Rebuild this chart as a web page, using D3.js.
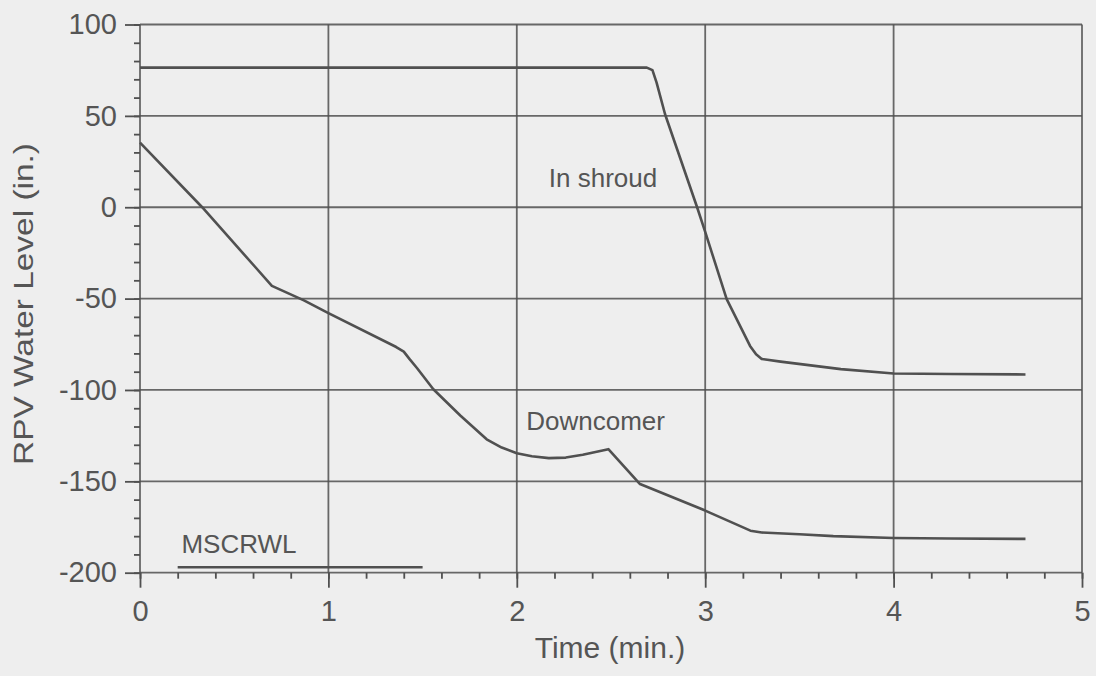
<!DOCTYPE html>
<html>
<head>
<meta charset="utf-8">
<script src="https://cdn.jsdelivr.net/npm/d3@7"></script>
<style>
  html, body { margin: 0; padding: 0; background: #eeeeee; }
  svg { display: block; }
  text { font-family: "Liberation Sans", Arial, Helvetica, sans-serif; fill: #555; }
</style>
</head>
<body>
<svg id="chart" width="1096" height="676"></svg>
<script>
// ---- data ----
const xTicks = [0, 1, 2, 3, 4, 5];
const yTicks = [100, 50, 0, -50, -100, -150, -200];

const downcomerTime  = [0, 0.33, 0.70, 0.87, 1.0, 1.36, 1.40, 1.43, 1.47, 1.557, 1.70, 1.84, 1.92, 2.0, 2.08, 2.17, 2.26, 2.35, 2.486, 2.654, 3.0, 3.24, 3.30, 3.50, 3.68, 4.0, 4.3, 4.70];
const downcomerLevel = [35.4, 0, -43, -51, -58, -76.5, -79, -83, -88, -99.6, -114, -127, -131.5, -134.6, -136.3, -137.3, -137, -135.5, -132.4, -151.5, -166, -177, -178, -179, -180, -181, -181.3, -181.5];

const shroudTime  = [0, 2.69, 2.72, 2.742, 2.787, 2.957, 3.0, 3.114, 3.238, 3.27, 3.30, 3.40, 3.72, 4.0, 4.3, 4.70];
const shroudLevel = [76.4, 76.4, 75, 68.2, 50.9, 0, -13.5, -50.3, -75.9, -80.5, -83, -84.5, -88.6, -91, -91.3, -91.5];

const msTime  = [0.2, 1.5];
const msLevel = [-197, -197];

const labels = [
  { text: "In shroud", t: 2.17, v: 11 },
  { text: "Downcomer", t: 2.05, v: -122 },
  { text: "MSCRWL", t: 0.22, v: -189 }
];

// ---- drawing ----
const svg = d3.select("#chart");
const ink = "#505050";
const x = d3.scaleLinear().domain([0, 5]).range([140, 1082]);
const y = d3.scaleLinear().domain([-200, 100]).range([572.7, 24.5]);
const fmt = d => String(d).replace("\u2212", "-");

// gridlines
svg.append("g").selectAll("line").data(yTicks).join("line")
  .attr("x1", x(0)).attr("x2", x(5))
  .attr("y1", d => y(d)).attr("y2", d => y(d))
  .attr("stroke", ink).attr("stroke-width", 1.8).attr("opacity", 0.85);
svg.append("g").selectAll("line").data(xTicks).join("line")
  .attr("x1", d => x(d)).attr("x2", d => x(d))
  .attr("y1", y(100)).attr("y2", y(-200))
  .attr("stroke", ink).attr("stroke-width", 1.8).attr("opacity", 0.85);

// axes with minor ticks
const xMinor = d3.range(0, 5.0001, 0.2);
const yMinor = d3.range(-200, 100.001, 10);
const gx = svg.append("g").attr("transform", `translate(0,${y(-200)})`);
gx.call(d3.axisBottom(x).tickValues(xMinor).tickSize(6).tickFormat(""));
gx.call(g => g.select(".domain").remove());
const gx2 = svg.append("g").attr("transform", `translate(0,${y(-200)})`);
gx2.call(d3.axisBottom(x).tickValues(xTicks).tickSize(15).tickPadding(12).tickFormat(fmt));
gx2.call(g => g.select(".domain").remove());

const gy = svg.append("g").attr("transform", `translate(${x(0)},0)`);
gy.call(d3.axisLeft(y).tickValues(yMinor).tickSize(6).tickFormat(""));
gy.call(g => g.select(".domain").remove());
const gy2 = svg.append("g").attr("transform", `translate(${x(0)},0)`);
gy2.call(d3.axisLeft(y).tickValues(yTicks).tickSize(15).tickPadding(8).tickFormat(fmt));
gy2.call(g => g.select(".domain").remove());

svg.selectAll(".tick line").attr("stroke", ink).attr("stroke-width", 1.8);
gx2.selectAll(".tick text").attr("font-size", 29).attr("fill", "#5a5a5a").attr("font-family", "Liberation Sans, Arial, sans-serif").attr("dy", "0.75em");
gy2.selectAll(".tick text").attr("font-size", 29).attr("fill", "#5a5a5a").attr("font-family", "Liberation Sans, Arial, sans-serif");

// curves
const line = d3.line().x(d => x(d[0])).y(d => y(d[1])).curve(d3.curveLinear);
const series = [
  d3.zip(downcomerTime, downcomerLevel),
  d3.zip(shroudTime, shroudLevel),
  d3.zip(msTime, msLevel)
];
svg.append("g").selectAll("path").data(series).join("path")
  .attr("d", line)
  .attr("fill", "none")
  .attr("stroke", ink)
  .attr("stroke-width", 2.6)
  .attr("stroke-linejoin", "round");

// annotations
svg.append("g").selectAll("text").data(labels).join("text")
  .attr("x", d => x(d.t)).attr("y", d => y(d.v))
  .attr("font-size", 26)
  .text(d => d.text);

// axis titles
svg.append("text")
  .attr("x", 610).attr("y", 658)
  .attr("text-anchor", "middle")
  .attr("font-size", 30)
  .text("Time (min.)");
svg.append("text")
  .attr("transform", "translate(33,304) rotate(-90)")
  .attr("text-anchor", "middle")
  .attr("font-size", 27)
  .attr("textLength", 322)
  .attr("lengthAdjust", "spacingAndGlyphs")
  .text("RPV Water Level (in.)");
</script>
</body>
</html>
